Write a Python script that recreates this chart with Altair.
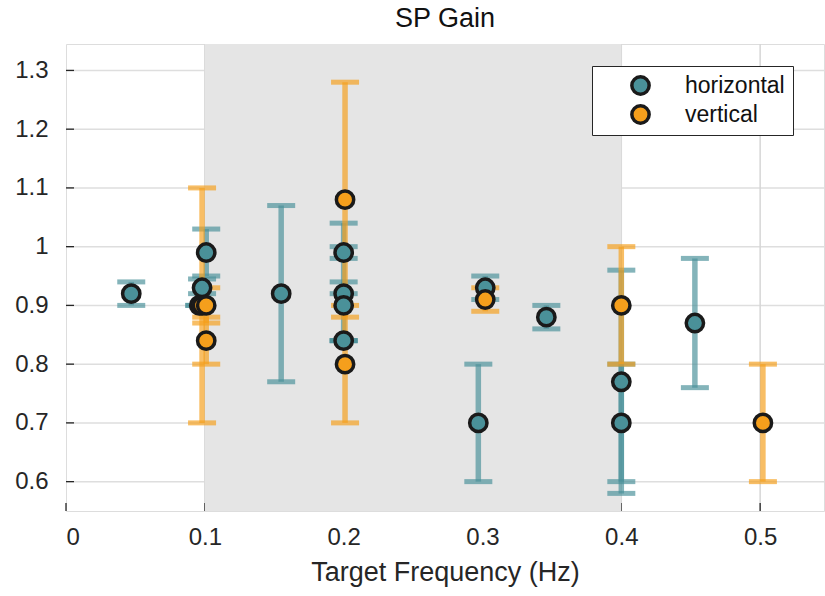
import altair as alt
import pandas as pd

# ---- data ----
series_names = ["horizontal", "vertical"]

h_freq = [0.047, 0.101, 0.098, 0.096, 0.155, 0.200, 0.200, 0.200, 0.200, 0.302, 0.297, 0.346, 0.400, 0.400, 0.453]
h_gain = [0.92, 0.99, 0.93, 0.90, 0.92, 0.99, 0.92, 0.90, 0.84, 0.93, 0.70, 0.88, 0.77, 0.70, 0.87]
h_lo   = [0.90, 0.95, 0.92, 0.90, 0.77, 0.98, 0.92, 0.84, 0.84, 0.91, 0.60, 0.86, 0.58, 0.60, 0.76]
h_hi   = [0.94, 1.03, 0.945, 0.90, 1.07, 1.00, 0.94, 1.04, 0.84, 0.95, 0.80, 0.90, 0.96, 0.80, 0.98]

v_freq = [0.098, 0.101, 0.101, 0.201, 0.201, 0.302, 0.400, 0.502]
v_gain = [0.90, 0.90, 0.84, 1.08, 0.80, 0.91, 0.90, 0.70]
v_lo   = [0.70, 0.87, 0.80, 0.88, 0.70, 0.89, 0.80, 0.60]
v_hi   = [1.10, 0.93, 0.88, 1.28, 0.90, 0.93, 1.00, 0.80]

x_ticks = [0, 0.1, 0.2, 0.3, 0.4, 0.5]
y_ticks = [0.6, 0.7, 0.8, 0.9, 1.0, 1.1, 1.2, 1.3]
x_domain = [0, 0.546]
y_domain = [0.55, 1.345]
patch_start = [0.1]
patch_end = [0.4]

title_text = "SP Gain"
x_title = "Target Frequency (Hz)"

teal = "#4a9199"
orange = "#f59f1c"
series_colors = [teal, orange]
FONT = "Liberation Sans"
W, H = 758, 467

df = pd.concat([
    pd.DataFrame({"freq": h_freq, "gain": h_gain, "lo": h_lo, "hi": h_hi, "series": series_names[0]}),
    pd.DataFrame({"freq": v_freq, "gain": v_gain, "lo": v_lo, "hi": v_hi, "series": series_names[1]}),
], ignore_index=True)

xs = alt.Scale(domain=x_domain, nice=False, zero=False)
ys = alt.Scale(domain=y_domain, nice=False, zero=False)
cscale = alt.Scale(domain=series_names, range=series_colors)

legend = alt.Legend(
    orient="none", legendX=526, legendY=22, title=None,
    labelFontSize=23, labelFont=FONT, labelColor="#111111",
    symbolType="circle", symbolSize=300, symbolStrokeWidth=3.5,
    symbolStrokeColor="#1a1a1a", symbolOffset=29, labelOffset=33,
    padding=8, rowPadding=5, clipHeight=23, strokeColor="#262626", fillColor="white",
    symbolOpacity=1)

x_axis = alt.Axis(values=x_ticks, format="~g", grid=False, ticks=False, domain=False,
                  labelFontSize=24, labelFont=FONT, labelColor="#262626", labelPadding=14,
                  title=x_title, titleFontSize=27, titleFont=FONT, titleFontWeight="normal",
                  titleColor="#262626", titlePadding=10)
y_axis = alt.Axis(values=y_ticks, format="~g", grid=False, ticks=False, domain=False,
                  labelFontSize=24, labelFont=FONT, labelColor="#262626", labelPadding=18,
                  title=None)

ygrid_df = pd.DataFrame({"y": y_ticks})
xgrid_df = pd.DataFrame({"x": x_ticks[1:]})
xtick_df = pd.DataFrame({"x": x_ticks})
patch_df = pd.DataFrame({"x": patch_start, "x2": patch_end})

ygrid = alt.Chart(ygrid_df).mark_rule(color="#dedede", strokeWidth=1.5).encode(
    y=alt.Y("y:Q", scale=ys, axis=y_axis), x=alt.value(0), x2=alt.value(W))
xgrid = alt.Chart(xgrid_df).mark_rule(color="#d6d6d6", strokeWidth=1.5).encode(
    x=alt.X("x:Q", scale=xs, axis=x_axis), y=alt.value(0), y2=alt.value(H))
ytick = alt.Chart(ygrid_df).mark_rule(color="#262626", strokeWidth=1.3).encode(
    y=alt.Y("y:Q", scale=ys), x=alt.value(0), x2=alt.value(8))
xtick = alt.Chart(xtick_df).mark_rule(color="#262626", strokeWidth=1.3).encode(
    x=alt.X("x:Q", scale=xs), y=alt.value(H), y2=alt.value(H - 8))
patch = alt.Chart(patch_df).mark_rect(color="#e5e5e5").encode(
    x=alt.X("x:Q", scale=xs), x2="x2:Q", y=alt.value(0), y2=alt.value(H))

base = alt.Chart(df)
err_layers = []
for name, col in zip(series_names, series_colors):
    sub = base.transform_filter(alt.datum.series == name)
    err_layers.append(sub.mark_rule(strokeWidth=5.5, opacity=0.68, color=col).encode(
        x=alt.X("freq:Q", scale=xs), y=alt.Y("lo:Q", scale=ys), y2="hi:Q"))
    err_layers.append(sub.mark_tick(orient="horizontal", size=28, thickness=5,
                                    opacity=0.68, color=col).encode(
        x=alt.X("freq:Q", scale=xs), y=alt.Y("lo:Q", scale=ys)))
    err_layers.append(sub.mark_tick(orient="horizontal", size=28, thickness=5,
                                    opacity=0.68, color=col).encode(
        x=alt.X("freq:Q", scale=xs), y=alt.Y("hi:Q", scale=ys)))

points = base.mark_point(filled=True, shape="circle", size=300, stroke="#1a1a1a",
                         strokeWidth=3.5, opacity=1).encode(
    x=alt.X("freq:Q", scale=xs), y=alt.Y("gain:Q", scale=ys),
    fill=alt.Fill("series:N", scale=cscale, legend=legend))

chart = alt.layer(ygrid, xgrid, ytick, xtick, patch, *err_layers, points).properties(
    width=W, height=H,
    title=alt.Title(title_text, fontSize=27, font=FONT, fontWeight="normal", color="#111111",
                    anchor="middle", offset=10),
    padding={"left": 66, "top": 44, "right": 1, "bottom": 85},
    autosize=alt.AutoSizeParams(type="none"),
).configure_view(stroke="#262626", strokeWidth=1.3).configure(background="white")

chart.save("out.html", embed_options={"renderer": "svg", "actions": False})
